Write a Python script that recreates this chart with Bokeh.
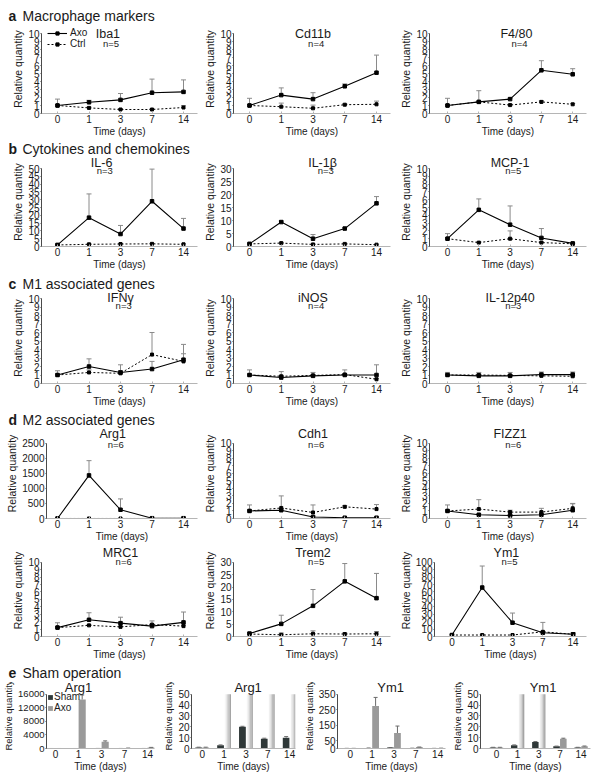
import numpy as np
from bokeh.plotting import figure
from bokeh.layouts import column, row
from bokeh.models import Range1d, FixedTicker, Label, Legend, LegendItem
from bokeh.embed import file_html
from bokeh.resources import INLINE

FONT = "Liberation Sans"
TXT = "#1a1a1a"

# ---------------- data ----------------
days = ["0", "1", "3", "7", "14"]

ticks_10 = [0, 1, 2, 3, 4, 5, 6, 7, 8, 9, 10]
ticks_50 = [0, 5, 10, 15, 20, 25, 30, 35, 40, 45, 50]
ticks_30 = [0, 5, 10, 15, 20, 25, 30]
ticks_100 = [0, 10, 20, 30, 40, 50, 60, 70, 80, 90, 100]
ticks_2500 = [0, 500, 1000, 1500, 2000, 2500]
ticks_16000 = [0, 4000, 8000, 12000, 16000]
ticks_bar50 = [0, 10, 20, 30, 40, 50]
ticks_350 = [0, 50, 150, 250, 350]

# a  Macrophage markers
iba1_axo = [1.0, 1.4, 1.7, 2.6, 2.7]
iba1_axo_err = [0.8, 0.25, 0.8, 1.7, 1.5]
iba1_ctrl = [1.0, 0.7, 0.5, 0.5, 0.75]
iba1_ctrl_err = [0.1, 0.1, 0.1, 0.1, 0.25]

cd11b_axo = [1.0, 2.3, 1.8, 3.4, 5.1]
cd11b_axo_err = [0.9, 0.9, 0.8, 0.3, 2.2]
cd11b_ctrl = [1.0, 0.85, 0.65, 1.1, 1.15]
cd11b_ctrl_err = [0.1, 0.45, 0.4, 0.1, 0.4]

f480_axo = [1.0, 1.45, 1.8, 5.4, 4.9]
f480_axo_err = [0.9, 0.1, 0.1, 1.2, 0.7]
f480_ctrl = [1.0, 1.45, 1.05, 1.45, 1.15]
f480_ctrl_err = [0.1, 1.4, 0.1, 0.15, 0.1]

# b  Cytokines and chemokines
il6_axo = [1.0, 18.5, 8.0, 29.0, 11.5]
il6_axo_err = [0.3, 15.2, 5.5, 20.6, 6.5]
il6_ctrl = [1.0, 1.4, 1.6, 1.7, 1.4]
il6_ctrl_err = [0.2, 0.3, 0.3, 0.3, 0.3]

il1b_axo = [1.0, 9.4, 3.0, 6.9, 16.6]
il1b_axo_err = [0.2, 0.4, 1.6, 0.4, 2.6]
il1b_ctrl = [1.0, 1.3, 0.8, 1.0, 0.7]
il1b_ctrl_err = [0.1, 0.2, 0.2, 0.2, 0.1]

mcp1_axo = [1.0, 4.7, 2.8, 1.1, 0.4]
mcp1_axo_err = [0.65, 1.4, 2.4, 1.2, 0.05]
mcp1_ctrl = [1.0, 0.5, 1.0, 0.5, 0.35]
mcp1_ctrl_err = [0.1, 0.1, 1.0, 0.1, 0.05]

# c  M1 associated genes
ifng_axo = [1.0, 2.0, 1.3, 1.7, 2.8]
ifng_axo_err = [0.5, 0.9, 0.9, 0.9, 0.7]
ifng_ctrl = [1.0, 1.3, 1.2, 3.4, 2.6]
ifng_ctrl_err = [0.1, 0.3, 0.3, 2.6, 2.0]

inos_axo = [1.0, 0.7, 0.9, 1.0, 1.0]
inos_axo_err = [0.6, 0.7, 0.4, 0.6, 1.2]
inos_ctrl = [1.0, 0.85, 0.95, 1.05, 0.5]
inos_ctrl_err = [0.1, 0.1, 0.1, 0.1, 0.1]

il12_axo = [1.0, 0.9, 0.9, 1.05, 1.05]
il12_axo_err = [0.3, 0.4, 0.4, 0.3, 0.3]
il12_ctrl = [1.0, 1.0, 0.95, 0.9, 0.85]
il12_ctrl_err = [0.1, 0.1, 0.1, 0.1, 0.1]

# d  M2 associated genes
arg1_axo = [1.0, 1430, 290, 10, 10]
arg1_axo_err = [0.0, 490, 360, 5, 5]
arg1_ctrl = [1.0, 1.0, 1.0, 1.0, 1.0]
arg1_ctrl_err = [0.0, 0.0, 0.0, 0.0, 0.0]

cdh1_axo = [1.0, 1.1, 0.2, 0.1, 0.1]
cdh1_axo_err = [0.1, 0.2, 0.1, 0.05, 0.05]
cdh1_ctrl = [1.0, 1.4, 0.8, 1.55, 1.25]
cdh1_ctrl_err = [0.8, 1.6, 1.0, 0.15, 0.6]

fizz1_axo = [1.0, 0.5, 0.4, 0.5, 1.1]
fizz1_axo_err = [0.8, 0.1, 0.1, 0.1, 0.9]
fizz1_ctrl = [1.0, 1.25, 0.85, 0.85, 1.35]
fizz1_ctrl_err = [0.1, 1.25, 0.25, 0.5, 0.6]

mrc1_axo = [1.2, 2.25, 1.8, 1.4, 1.9]
mrc1_axo_err = [0.65, 0.95, 0.8, 0.7, 1.4]
mrc1_ctrl = [1.2, 1.5, 1.3, 1.6, 1.4]
mrc1_ctrl_err = [0.1, 0.1, 0.1, 0.1, 0.1]

trem2_axo = [1.2, 5.1, 12.4, 22.3, 15.5]
trem2_axo_err = [0.4, 3.5, 6.6, 7.2, 10.0]
trem2_ctrl = [1.0, 0.7, 1.1, 1.0, 1.1]
trem2_ctrl_err = [0.6, 0.7, 1.2, 0.4, 0.9]

ym1_axo = [2.0, 66.0, 18.6, 5.0, 3.0]
ym1_axo_err = [0.5, 29.0, 13.0, 14.0, 2.0]
ym1_ctrl = [2.0, 2.0, 2.0, 6.3, 3.0]
ym1_ctrl_err = [0.3, 0.3, 0.3, 0.5, 0.5]

# e  Sham operation
sham_arg1 = [1.0, 3.0, 20.0, 9.0, 10.0]
sham_arg1_err = [0.2, 0.3, 0.5, 0.5, 1.0]
axo_arg1 = [1.0, 14500.0, 2000.0, 100.0, 280.0]
axo_arg1_err = [0.2, 1300.0, 250.0, 30.0, 50.0]

sham_ym1 = [1.0, 3.0, 6.0, 2.0, 1.0]
sham_ym1_err = [0.1, 0.3, 0.4, 0.2, 0.1]
axo_ym1 = [1.0, 275.0, 100.0, 9.0, 2.0]
axo_ym1_err = [0.1, 55.0, 45.0, 0.5, 0.3]

# ---------------- layout geometry (page pixels) ----------------
ROWS = {
    "a": dict(top=24, ymax_y=33, zero=113, bottom=141, title_y=33, n_y=43),
    "b": dict(top=157, ymax_y=168, zero=246, bottom=276, title_y=162, n_y=170),
    "c": dict(top=292, ymax_y=298, zero=383, bottom=410, title_y=297, n_y=305),
    "d": dict(top=428, ymax_y=443, zero=520, bottom=544, title_y=435, n_y=446),
    "d2": dict(top=544, ymax_y=562, zero=637, bottom=662, title_y=553, n_y=562),
    "e": dict(top=682, ymax_y=694, zero=749, bottom=774, title_y=688, n_y=None),
}
# header strips: (top, bottom, text centre)
HEADERS = {
    "a": (0, 24, 15), "b": (141, 157, 148), "c": (276, 292, 283),
    "d": (410, 428, 419), "e": (662, 682, 672),
}
COL3 = [
    dict(left=0, w=200, bl=41, br=3, p0=57, sp=31.5),
    dict(left=200, w=196, bl=33, br=6, p0=249, sp=31.75),
    dict(left=396, w=204, bl=33, br=14, p0=447, sp=31.3),
]
COL4 = [
    dict(left=0, w=160, bl=46, br=6, p0=55, sp=23.0),
    dict(left=160, w=140, bl=28, br=5, p0=199, sp=22.5),
    dict(left=300, w=149, bl=35, br=4, p0=348, sp=22.25),
    dict(left=449, w=151, bl=24, br=10, p0=490, sp=22.5),
]

DARK = "#2f3838"
GRAY = "#9a9a9a"
ERR = "#8a8a8a"


def header_fig(key, letter, text):
    top, bottom, center = HEADERS[key]
    h = bottom - top
    p = figure(width=600, height=h, output_backend="svg", toolbar_location=None,
               x_axis_type=None, y_axis_type=None,
               x_range=Range1d(0, 600), y_range=Range1d(0, h), min_border=0)
    p.outline_line_color = None
    for x, t, st in ((8, letter, "bold"), (22, text, "normal")):
        p.add_layout(Label(x=x, y=bottom - center, x_units="screen", y_units="screen",
                           text=t, text_font=FONT, text_font_size="14px",
                           text_font_style=st, text_color=TXT,
                           text_align="left", text_baseline="middle"))
    return p


def make_fig(col, rg, ymax, bl=None):
    bl = col["bl"] if bl is None else bl
    w, br = col["w"], col["br"]
    h = rg["bottom"] - rg["top"]
    bb = rg["bottom"] - rg["zero"]
    fh = rg["zero"] - rg["top"]
    y_end = ymax * fh / (rg["zero"] - rg["ymax_y"])
    p0 = col["p0"] - col["left"]
    sp = col["sp"]
    xs = (bl - p0) / sp
    xe = (w - br - p0) / sp
    p = figure(width=w, height=h, output_backend="svg", toolbar_location=None,
               x_range=Range1d(xs, xe), y_range=Range1d(0, y_end),
               min_border_left=bl, min_border_right=br,
               min_border_top=0, min_border_bottom=bb)
    p.outline_line_color = None
    p.xgrid.visible = False
    p.ygrid.visible = False
    return p, bl


def style_axes(p, yticks, ytick_size="10px", ylabel_size="10.5px"):
    xa = p.xaxis[0]
    ya = p.yaxis[0]
    xa.ticker = FixedTicker(ticks=list(range(len(days))))
    xa.major_label_overrides = {i: d for i, d in enumerate(days)}
    xa.axis_label = "Time (days)"
    ya.axis_label = "Relative quantity"
    for ax in (xa, ya):
        ax.axis_label_text_font = FONT
        ax.axis_label_text_font_style = "normal"
        ax.axis_label_text_color = TXT
        ax.major_label_text_font = FONT
        ax.major_label_text_color = TXT
        ax.minor_tick_line_color = None
    xa.major_label_standoff = 1
    xa.axis_label_standoff = 0
    ya.major_label_standoff = 1
    ya.axis_label_standoff = 1
    xa.axis_label_text_font_size = "10px"
    ya.axis_label_text_font_size = ylabel_size
    xa.major_label_text_font_size = "10px"
    xa.axis_line_color = "#b5b5b5"
    xa.major_tick_line_color = "#b5b5b5"
    xa.major_tick_out = 0
    xa.major_tick_in = 2
    ya.ticker = FixedTicker(ticks=yticks)
    ya.bounds = (0, yticks[-1])
    ya.major_label_text_font_size = ytick_size
    ya.axis_line_color = "#4a4a4a"
    ya.major_tick_line_color = "#4a4a4a"
    ya.major_tick_out = 1
    ya.major_tick_in = 0


def add_text(p, x, y, text, size):
    p.add_layout(Label(x=x, y=y, x_units="data", y_units="screen", text=text,
                       text_font=FONT, text_font_size=size, text_color=TXT,
                       text_align="center", text_baseline="middle"))


def line_panel(col, rg, title, n, axo, axo_err, ctrl, ctrl_err, ymax, yticks,
               title_x=2.0, legend=False, bl=None):
    p, bl = make_fig(col, rg, ymax, bl)
    x = np.arange(len(days))
    axo = np.array(axo, float)
    axo_err = np.array(axo_err, float)
    ctrl = np.array(ctrl, float)
    ctrl_err = np.array(ctrl_err, float)
    for m, e in ((ctrl, ctrl_err), (axo, axo_err)):
        p.segment(x, m, x, m + e, line_color=ERR, line_width=1)
        p.scatter(x, m + e, marker="dash", size=5, line_color=ERR, line_width=1)
    rl_c = p.line(x, ctrl, line_color="black", line_width=1, line_dash="2 2")
    rp_c = p.scatter(x, ctrl, marker="square", size=3, color="black")
    rl_a = p.line(x, axo, line_color="black", line_width=1.1)
    rp_a = p.scatter(x, axo, marker="square", size=3.5, color="black")
    style_axes(p, yticks, "10px")
    add_text(p, title_x, rg["zero"] - rg["title_y"], title, "12.5px")
    add_text(p, title_x + 0.1, rg["zero"] - rg["n_y"], "n=%d" % n, "9.5px")
    if legend:
        leg = Legend(items=[LegendItem(label="Axo", renderers=[rl_a, rp_a]),
                            LegendItem(label="Ctrl", renderers=[rl_c, rp_c])],
                     location=(6, rg["zero"] - 49), background_fill_alpha=0,
                     border_line_color=None, label_text_font=FONT,
                     label_text_font_size="10px", label_text_color=TXT,
                     glyph_width=20, glyph_height=8, label_height=8,
                     label_standoff=3, spacing=0, padding=0, margin=0)
        p.add_layout(leg)
    return p


def bar_panel(col, rg, title, sham, sham_err, axo, axo_err, ymax, yticks,
              title_x=2.0, legend=False, ytick_size="10px"):
    p, bl = make_fig(col, rg, ymax)
    x = np.arange(len(days))
    sham = np.array(sham, float)
    sham_err = np.array(sham_err, float)
    axo = np.array(axo, float)
    axo_err = np.array(axo_err, float)
    bw = 0.31
    xs = x - 0.16
    xa = x + 0.16
    r_sham = p.vbar(x=xs, top=sham, width=bw, fill_color=DARK, line_color=None)
    tall = axo > ymax
    r_axo = p.vbar(x=xa[~tall], top=axo[~tall], width=bw, fill_color=GRAY, line_color=None)
    if tall.any():
        # bars that run off the axis are cut at its top, shaded like the original
        shades = ["#fdfdfd", "#ececec", "#d6d6d6", "#bdbdbd", "#a4a4a4"]
        cut = np.minimum(axo[tall], ymax)
        for k, c in enumerate(shades):
            p.vbar(x=xa[tall] + (k - 2) * bw / 5, top=cut, width=bw / 5 * 1.05,
                   fill_color=c, line_color=None)
    for xx, m, e, keep in ((xs, sham, sham_err, sham <= ymax), (xa, axo, axo_err, ~tall)):
        p.segment(xx[keep], m[keep], xx[keep], (m + e)[keep], line_color="#6a6a6a", line_width=1)
        p.scatter(xx[keep], (m + e)[keep], marker="dash", size=4, line_color="#6a6a6a", line_width=1)
    style_axes(p, yticks, ytick_size, ylabel_size="9.5px")
    p.xaxis[0].major_tick_in = 0
    add_text(p, title_x, rg["zero"] - rg["title_y"], title, "13px")
    if legend:
        leg = Legend(items=[LegendItem(label="Sham", renderers=[r_sham]),
                            LegendItem(label="Axo", renderers=[r_axo])],
                     location=(1, 35), background_fill_alpha=0,
                     border_line_color=None, label_text_font=FONT,
                     label_text_font_size="10px", label_text_color=TXT,
                     glyph_width=6, glyph_height=6, label_height=9,
                     label_standoff=1, spacing=0, padding=0, margin=0)
        p.add_layout(leg)
    return p


R = ROWS
row_a = row(
    line_panel(COL3[0], R["a"], "Iba1", 5, iba1_axo, iba1_axo_err, iba1_ctrl, iba1_ctrl_err,
               10, ticks_10, title_x=1.6, legend=True),
    line_panel(COL3[1], R["a"], "Cd11b", 4, cd11b_axo, cd11b_axo_err, cd11b_ctrl, cd11b_ctrl_err,
               10, ticks_10, title_x=2.0),
    line_panel(COL3[2], R["a"], "F4/80", 4, f480_axo, f480_axo_err, f480_ctrl, f480_ctrl_err,
               10, ticks_10, title_x=2.2),
    spacing=0)

row_b = row(
    line_panel(COL3[0], R["b"], "IL-6", 3, il6_axo, il6_axo_err, il6_ctrl, il6_ctrl_err,
               50, ticks_50, title_x=1.4),
    line_panel(COL3[1], R["b"], "IL-1\u03b2", 3, il1b_axo, il1b_axo_err, il1b_ctrl, il1b_ctrl_err,
               30, ticks_30, title_x=2.3),
    line_panel(COL3[2], R["b"], "MCP-1", 5, mcp1_axo, mcp1_axo_err, mcp1_ctrl, mcp1_ctrl_err,
               10, ticks_10, title_x=2.0),
    spacing=0)

row_c = row(
    line_panel(COL3[0], R["c"], "IFN\u03b3", 3, ifng_axo, ifng_axo_err, ifng_ctrl, ifng_ctrl_err,
               10, ticks_10, title_x=2.0),
    line_panel(COL3[1], R["c"], "iNOS", 4, inos_axo, inos_axo_err, inos_ctrl, inos_ctrl_err,
               10, ticks_10, title_x=2.0),
    line_panel(COL3[2], R["c"], "IL-12p40", 3, il12_axo, il12_axo_err, il12_ctrl, il12_ctrl_err,
               10, ticks_10, title_x=2.0),
    spacing=0)

row_d = row(
    line_panel(COL3[0], R["d"], "Arg1", 6, arg1_axo, arg1_axo_err, arg1_ctrl, arg1_ctrl_err,
               2500, ticks_2500, title_x=1.75, bl=46),
    line_panel(COL3[1], R["d"], "Cdh1", 6, cdh1_axo, cdh1_axo_err, cdh1_ctrl, cdh1_ctrl_err,
               10, ticks_10, title_x=2.0),
    line_panel(COL3[2], R["d"], "FIZZ1", 6, fizz1_axo, fizz1_axo_err, fizz1_ctrl, fizz1_ctrl_err,
               10, ticks_10, title_x=2.0),
    spacing=0)

row_d2 = row(
    line_panel(COL3[0], R["d2"], "MRC1", 6, mrc1_axo, mrc1_axo_err, mrc1_ctrl, mrc1_ctrl_err,
               10, ticks_10, title_x=2.0),
    line_panel(COL3[1], R["d2"], "Trem2", 5, trem2_axo, trem2_axo_err, trem2_ctrl, trem2_ctrl_err,
               30, ticks_30, title_x=2.0),
    line_panel(COL3[2], R["d2"], "Ym1", 5, ym1_axo, ym1_axo_err, ym1_ctrl, ym1_ctrl_err,
               100, ticks_100, title_x=1.8),
    spacing=0)

row_e = row(
    bar_panel(COL4[0], R["e"], "Arg1", sham_arg1, sham_arg1_err, axo_arg1, axo_arg1_err,
              16000, ticks_16000, title_x=1.0, legend=True, ytick_size="9.5px"),
    bar_panel(COL4[1], R["e"], "Arg1", sham_arg1, sham_arg1_err, axo_arg1, axo_arg1_err,
              50, ticks_bar50, title_x=2.1),
    bar_panel(COL4[2], R["e"], "Ym1", sham_ym1, sham_ym1_err, axo_ym1, axo_ym1_err,
              350, ticks_350, title_x=1.85),
    bar_panel(COL4[3], R["e"], "Ym1", sham_ym1, sham_ym1_err, axo_ym1, axo_ym1_err,
              50, ticks_bar50, title_x=2.2),
    spacing=0)

layout = column(
    header_fig("a", "a", "Macrophage markers"), row_a,
    header_fig("b", "b", "Cytokines and chemokines"), row_b,
    header_fig("c", "c", "M1 associated genes"), row_c,
    header_fig("d", "d", "M2 associated genes"), row_d, row_d2,
    header_fig("e", "e", "Sham operation"), row_e,
    spacing=0)

with open("out.html", "w") as f:
    f.write(file_html(layout, INLINE))
